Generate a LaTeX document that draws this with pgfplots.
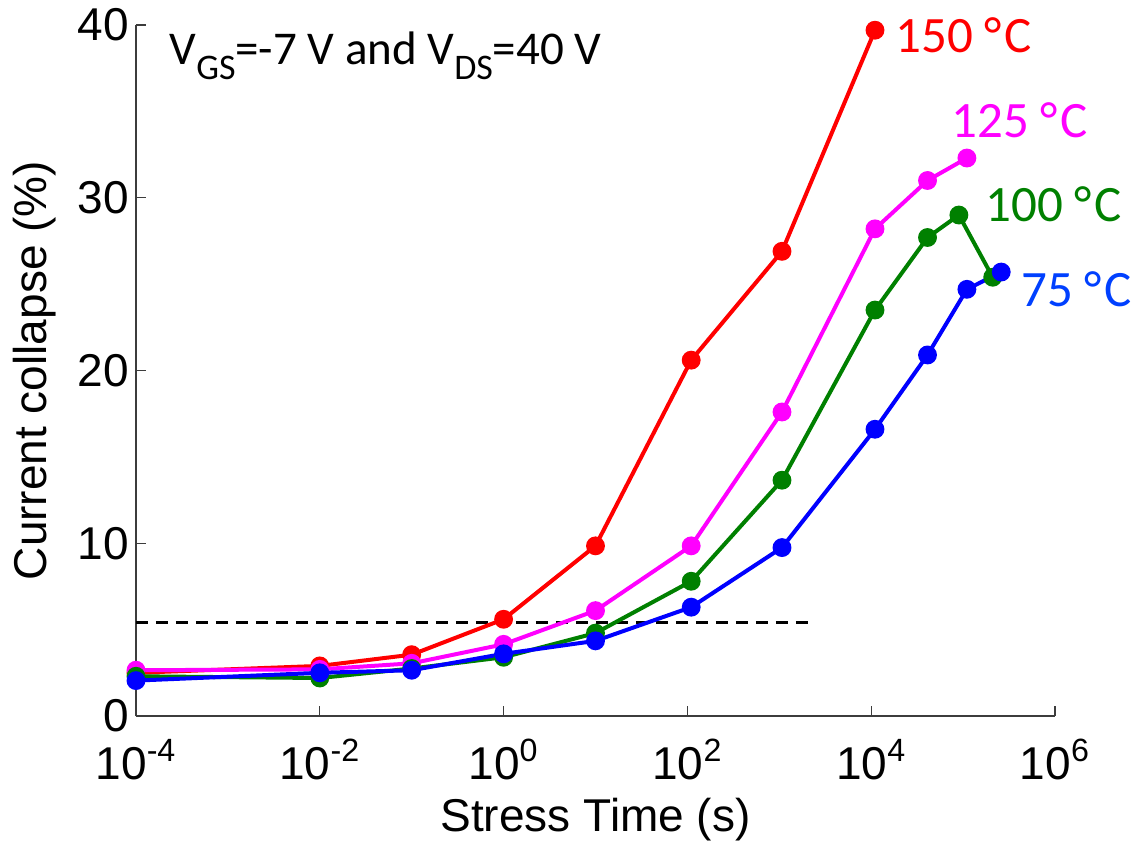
\documentclass[border=0pt]{standalone}
\usepackage{pgfplots}
\pgfplotsset{compat=1.18}
\usepackage{fontspec}
\setmainfont{Liberation Sans}
\newfontfamily\calfont{Carlito}

\definecolor{cRed}{RGB}{255,0,0}
\definecolor{cMag}{RGB}{255,0,255}
\definecolor{cGreen}{RGB}{0,128,0}
\definecolor{cBlue}{RGB}{0,0,255}
\definecolor{cBlueTxt}{RGB}{0,64,255}
\definecolor{axgray}{RGB}{60,60,60}

\newcommand{\sub}[1]{\raisebox{-7.5pt}{\fontsize{18}{18}\selectfont #1}}
\newcommand{\degC}{°\kern1.2pt C}

\begin{document}
\begin{tikzpicture}
\begin{axis}[
  scale only axis,
  width=459.5pt, height=345.5pt,
  xmode=log,
  xmin=1e-4, xmax=1e6,
  ymin=0, ymax=40,
  axis x line*=bottom, axis y line*=left,
  axis line style={-, axgray, line width=0.6pt},
  tick style={axgray, line width=0.6pt},
  tick align=inside,
  major tick length=5pt,
  xtick={1e-4,1e-2,1,1e2,1e4,1e6},
  xticklabels={10\textsuperscript{-4},10\textsuperscript{-2},10\textsuperscript{0},10\textsuperscript{2},10\textsuperscript{4},10\textsuperscript{6}},
  minor xtick={},
  ytick={0,10,20,30,40},
  yticklabels={0,10,20,30,40},
  ticklabel style={font=\fontsize{23}{23}\selectfont},
  xticklabel style={yshift=-8pt},
  yticklabel style={inner sep=1.5pt, xshift=-2pt},
  xlabel={Stress Time (s)},
  ylabel={Current collapse (\%)},
  label style={font=\fontsize{23}{23}\selectfont},
  xlabel style={at={(axis description cs:0.5,-0.15)}, anchor=center},
  ylabel style={at={(axis description cs:-0.11,0.5)}, anchor=center},
  clip=false,
  every axis plot/.append style={line width=2pt, mark=*, mark size=3.7pt},
]
% threshold reference line
\addplot[black, line width=1.5pt, dash pattern=on 6pt off 4pt, mark=none]
  coordinates {(1e-4,5.4) (2400,5.4)};

% 150 C
\addplot[cRed, mark options={fill=cRed}] coordinates {
  (1e-4,2.5) (1e-2,2.9) (1e-1,3.55) (1,5.6) (10,9.85) (110,20.6) (1070,26.9) (1.1e4,39.7)};
% 125 C
\addplot[cMag, mark options={fill=cMag}] coordinates {
  (1e-4,2.65) (1e-2,2.7) (1e-1,3.05) (1,4.15) (10,6.1) (110,9.85) (1070,17.6) (1.1e4,28.2) (4.1e4,31.0) (1.1e5,32.3)};
% 100 C
\addplot[cGreen, mark options={fill=cGreen}] coordinates {
  (1e-4,2.3) (1e-2,2.2) (1e-1,2.75) (1,3.4) (10,4.8) (110,7.8) (1070,13.65) (1.1e4,23.5) (4.1e4,27.7) (9e4,29.0) (2.1e5,25.4)};
% 75 C
\addplot[cBlue, mark options={fill=cBlue}] coordinates {
  (1e-4,2.05) (1e-2,2.5) (1e-1,2.65) (1,3.6) (10,4.35) (110,6.3) (1070,9.75) (1.1e4,16.6) (4.1e4,20.9) (1.1e5,24.7) (2.6e5,25.7)};

\node[anchor=base west, inner sep=0pt, text=cRed, font=\calfont\fontsize{25.5}{25.5}\selectfont] at (axis cs:1.83e4,38.4) {150 \degC};
\node[anchor=base west, inner sep=0pt, text=cMag, font=\calfont\fontsize{25.5}{25.5}\selectfont] at (axis cs:7.4e4,33.5) {125 \degC};
\node[anchor=base west, inner sep=0pt, text=cGreen, font=\calfont\fontsize{25.5}{25.5}\selectfont] at (axis cs:1.73e5,28.6) {100 \degC};
\node[anchor=base west, inner sep=0pt, text=cBlueTxt, font=\calfont\fontsize{25.5}{25.5}\selectfont] at (axis cs:4.24e5,23.7) {75 \degC};

\node[anchor=base west, inner sep=0pt, font=\calfont\fontsize{23.5}{23.5}\selectfont] at (axis cs:2.3e-4,37.7)
  {V\sub{GS}=-7 V and V\sub{DS}=40 V};
\end{axis}
\pgfresetboundingbox
\path (-68pt,-63.5pt) rectangle (500pt,358pt);
\end{tikzpicture}
\end{document}
